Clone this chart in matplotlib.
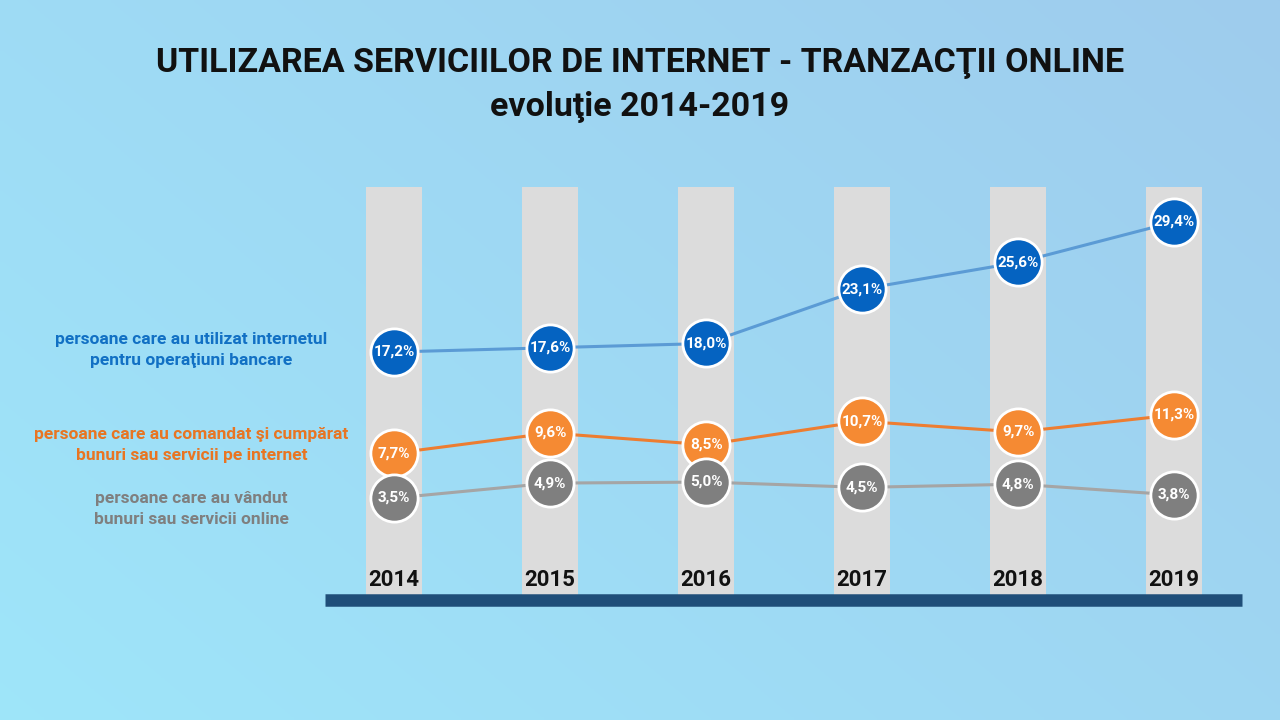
import matplotlib
matplotlib.use('Agg')
import matplotlib.pyplot as plt
import numpy as np

years = ['2014', '2015', '2016', '2017', '2018', '2019']
banking = [17.2, 17.6, 18.0, 23.1, 25.6, 29.4]
bought = [7.7, 9.6, 8.5, 10.7, 9.7, 11.3]
sold = [3.5, 4.9, 5.0, 4.5, 4.8, 3.8]
labels = ['persoane care au utilizat internetul\npentru operaţiuni bancare',
          'persoane care au comandat şi cumpărat\nbunuri sau servicii pe internet',
          'persoane care au vândut\nbunuri sau servicii online']

plt.rcParams['font.family'] = ['Roboto', 'DejaVu Sans']

fig = plt.figure(figsize=(12.8, 7.2), dpi=100)
ax = fig.add_axes([0, 0, 1, 1])
ax.set_xlim(-2.526, 5.679)
ax.set_ylim(-17.32, 50.22)
ax.axis('off')

# background gradient
gx = np.linspace(0, 1, 256)
gy = np.linspace(0, 1, 256)
GX, GY = np.meshgrid(gx, gy)
t = 0.6 * GX + 0.4 * (1 - GY)
c1 = np.array([0.62, 0.90, 0.98])
c2 = np.array([0.62, 0.80, 0.93])
img = c1 * (1 - t[..., None]) + c2 * t[..., None]
ax.imshow(img, extent=[-2.526, 5.679, -17.32, 50.22], aspect='auto', zorder=0)

x = np.arange(len(years))
ax.bar(x, 32.7 + 5.6, bottom=-5.6, width=0.36, color='#dcdcdc', zorder=1)
ax.plot([-0.442, 5.436], [-6.1, -6.1], color='#1f4e79', lw=9, solid_capstyle='butt', zorder=2)
for i, y in enumerate(years):
    ax.text(i, -4.2, y, ha='center', va='center', fontsize=16, fontweight='bold', color='#111111', zorder=3)

series = [(banking, '#5b9bd5', '#0563c1', '#1170c4'),
          (bought, '#ed7d31', '#f58a33', '#e87522'),
          (sold, '#a5a5a5', '#7f7f7f', '#7f7f7f')]
label_y = [17.4, 8.5, 2.5]
for (vals, lc, mc, tc), lab, ly in zip(series, labels, label_y):
    ax.plot(x, vals, color=lc, lw=2.2, zorder=3)
    ax.plot(x, vals, 'o', ms=34, color=mc, mec='white', mew=2, zorder=4)
    for i, v in enumerate(vals):
        ax.text(i, v, f'{v:.1f}%'.replace('.', ','), ha='center', va='center',
                fontsize=11, fontweight='bold', color='white', zorder=5)
    ax.text(-1.3, ly, lab, ha='center', va='center', fontsize=12.5,
            fontweight='bold', color=tc, linespacing=1.5, zorder=3)

fig.text(0.5, 0.912, 'UTILIZAREA SERVICIILOR DE INTERNET - TRANZACŢII ONLINE',
         ha='center', va='center', fontsize=24.5, fontweight='bold', color='#111111')
fig.text(0.5, 0.852, 'evoluţie 2014-2019', ha='center', va='center',
         fontsize=24.5, fontweight='bold', color='#111111')

fig.savefig('out.png', dpi=100)
